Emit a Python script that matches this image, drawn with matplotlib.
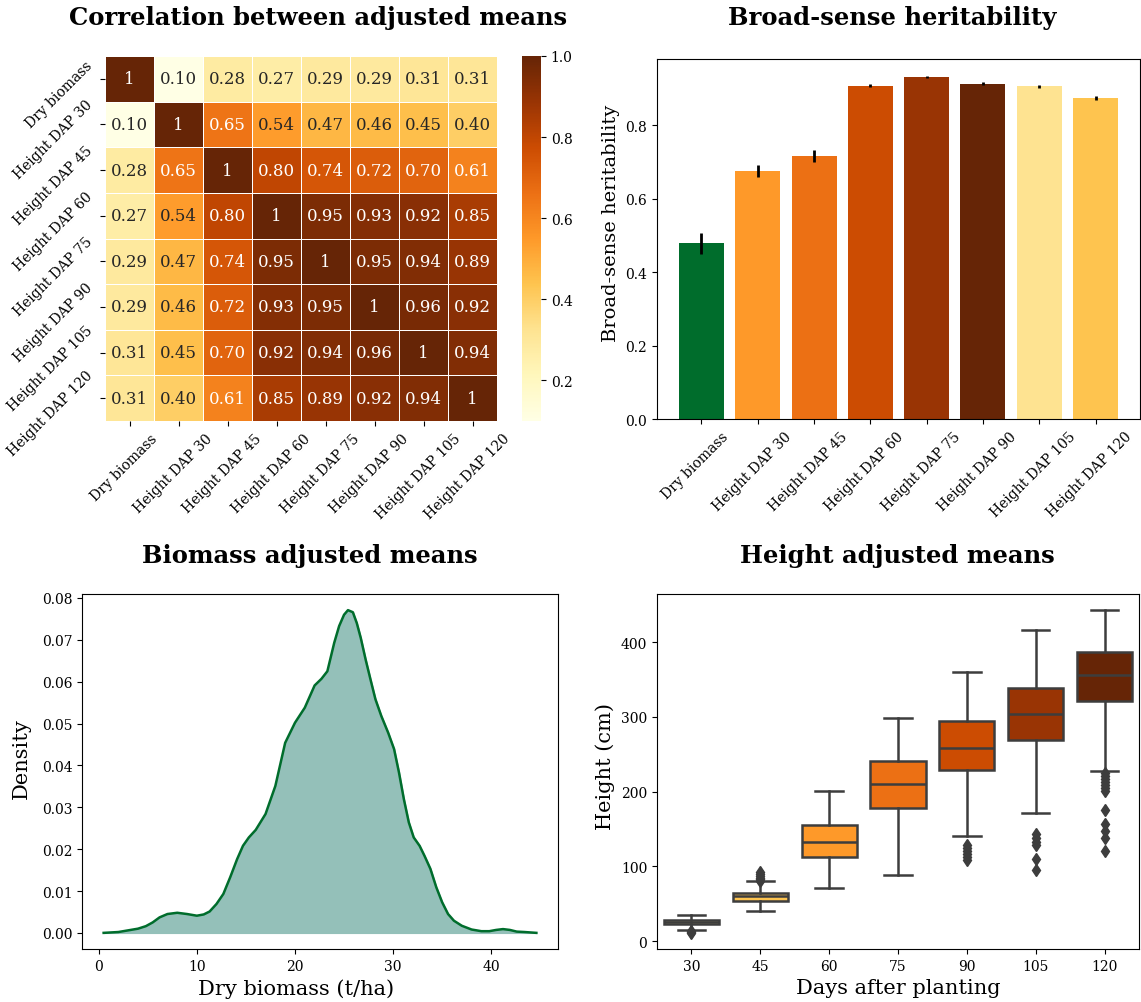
import numpy as np
import matplotlib
matplotlib.use("Agg")
import matplotlib.pyplot as plt
import matplotlib.transforms as mtransforms
from matplotlib.colors import to_rgb

plt.rcParams['font.family'] = ['DejaVu Serif']

# ---------------- data ----------------
trait_labels = ["Dry biomass", "Height DAP 30", "Height DAP 45", "Height DAP 60",
                "Height DAP 75", "Height DAP 90", "Height DAP 105", "Height DAP 120"]

corr_values = [
    [1.00, 0.10, 0.28, 0.27, 0.29, 0.29, 0.31, 0.31],
    [0.10, 1.00, 0.65, 0.54, 0.47, 0.46, 0.45, 0.40],
    [0.28, 0.65, 1.00, 0.80, 0.74, 0.72, 0.70, 0.61],
    [0.27, 0.54, 0.80, 1.00, 0.95, 0.93, 0.92, 0.85],
    [0.29, 0.47, 0.74, 0.95, 1.00, 0.95, 0.94, 0.89],
    [0.29, 0.46, 0.72, 0.93, 0.95, 1.00, 0.96, 0.92],
    [0.31, 0.45, 0.70, 0.92, 0.94, 0.96, 1.00, 0.94],
    [0.31, 0.40, 0.61, 0.85, 0.89, 0.92, 0.94, 1.00],
]

heritability = [0.478, 0.675, 0.716, 0.907, 0.931, 0.912, 0.906, 0.874]
heritability_err = [0.029, 0.017, 0.016, 0.004, 0.002, 0.004, 0.004, 0.006]
bar_colors = ['#006d2c', '#fe9929', '#ec7014', '#cc4c02', '#993404', '#662506', '#fee391', '#fec44f']

# density curve of dry biomass
biomass_x = [0.5, 2.0, 3.0, 4.0, 4.8, 5.5, 6.2, 7.0, 8.0, 9.0, 10.0, 10.7, 11.3, 12.0, 12.7,
             13.4, 14.1, 14.7, 15.3, 16.0, 17.0, 18.0, 19.0, 20.0, 21.0, 22.0, 22.7, 23.3,
             24.0, 24.5, 25.0, 25.4, 25.9, 26.3, 26.7, 27.2, 27.7, 28.2, 28.8, 29.5, 30.1,
             30.6, 31.1, 31.6, 32.1, 32.7, 33.2, 33.8, 34.4, 35.0, 35.6, 36.2, 37.0, 38.0,
             39.0, 39.8, 40.5, 41.2, 41.9, 42.6, 43.4, 44.6]
biomass_density = [0.0000, 0.0002, 0.0006, 0.0010, 0.0016, 0.0025, 0.0037, 0.0045, 0.0048,
                   0.0045, 0.0041, 0.0044, 0.0051, 0.0069, 0.0093, 0.0133, 0.0176, 0.0208,
                   0.0228, 0.0246, 0.0284, 0.0351, 0.0454, 0.0502, 0.0538, 0.0591, 0.0607,
                   0.0625, 0.0693, 0.0733, 0.0760, 0.0771, 0.0766, 0.0740, 0.0705, 0.0653,
                   0.0605, 0.0558, 0.0518, 0.0478, 0.0439, 0.0383, 0.0319, 0.0264, 0.0228,
                   0.0208, 0.0184, 0.0153, 0.0109, 0.0073, 0.0045, 0.0029, 0.0017, 0.0008,
                   0.0004, 0.0004, 0.0007, 0.0009, 0.0007, 0.0003, 0.0002, 0.0000]

# height box statistics per days after planting
dap_labels = ['30', '45', '60', '75', '90', '105', '120']
box_whislo = [15.5, 40, 71, 88, 141, 171, 228]
box_q1 = [23, 54, 112.5, 177.5, 228.5, 268.5, 321]
box_med = [26, 60, 133, 210, 259, 303.5, 356]
box_q3 = [28.5, 65, 155, 240.5, 294.5, 339, 386.5]
box_whishi = [35, 80, 200.5, 299, 360, 417, 443]
box_fliers = [
    [14, 12.5, 11],
    [81, 83, 85, 87, 90, 92],
    [],
    [],
    [108, 112, 116, 120, 124, 128],
    [95, 110, 128, 133, 138, 143],
    [121, 138, 148, 157, 175, 201, 205, 209, 213, 217, 221, 225],
]
box_colors = ['#fee391', '#fec44f', '#fe9929', '#ec7014', '#cc4c02', '#993404', '#662506']

# ---------------- figure ----------------
W, H = 1141, 1003
fig = plt.figure(figsize=(W / 100, H / 100), dpi=100)


def px_axes(l, t, r, b):
    return fig.add_axes([l / W, 1 - b / H, (r - l) / W, (b - t) / H])


def shift_labels(labels, dx_px, dy_px=0):
    off = mtransforms.ScaledTranslation(dx_px / 100, dy_px / 100, fig.dpi_scale_trans)
    for lab in labels:
        lab.set_transform(lab.get_transform() + off)


title_kw = dict(fontsize=17.5, fontweight='bold', ha='center', va='center')

# ---- heatmap ----
ax1 = px_axes(105, 57, 497, 422)
cax = px_axes(522, 57, 541, 422)
data = np.array(corr_values)
cmap = plt.get_cmap('YlOrBr')
vmin, vmax = data.min(), data.max()
mesh = ax1.pcolormesh(data, cmap=cmap, vmin=vmin, vmax=vmax, edgecolors='white', linewidth=0.7)
ax1.set_xlim(0, data.shape[1])
ax1.set_ylim(data.shape[0], 0)
for s in ax1.spines.values():
    s.set_visible(False)


def rel_lum(c):
    rgb = np.array(to_rgb(c))
    rgb = np.where(rgb <= .03928, rgb / 12.92, ((rgb + .055) / 1.055) ** 2.4)
    return rgb.dot([.2126, .7152, .0722])


for i in range(data.shape[0]):
    for j in range(data.shape[1]):
        v = data[i, j]
        col = cmap((v - vmin) / (vmax - vmin))
        tc = '#262626' if rel_lum(col) > .408 else 'white'
        txt = "1" if v == 1 else f"{v:.2f}"
        ax1.text(j + 0.5, i + 0.5, txt, ha='center', va='center', fontsize=12, color=tc)

ax1.set_xticks(np.arange(8) + 0.5)
ax1.set_yticks(np.arange(8) + 0.5)
xl1 = ax1.set_xticklabels(trait_labels, rotation=45, fontsize=10)
yl1 = ax1.set_yticklabels(trait_labels, rotation=45, fontsize=10, va='center')
shift_labels(xl1, -5)
shift_labels(yl1, 0, -15)
cb = fig.colorbar(mesh, cax=cax)
cb.outline.set_visible(False)
cb.set_ticks([0.2, 0.4, 0.6, 0.8, 1.0])
cb.ax.tick_params(labelsize=10)
fig.text(318 / W, 1 - 18 / H, "Correlation between adjusted means", **title_kw)

# ---- bars ----
ax2 = px_axes(657, 60, 1140, 420)
xpos = np.arange(len(trait_labels))
ax2.bar(xpos, heritability, width=0.8, color=bar_colors, yerr=heritability_err,
        error_kw=dict(ecolor='black', elinewidth=2, capsize=0))
ax2.set_xticks(xpos)
xl2 = ax2.set_xticklabels(trait_labels, rotation=45, fontsize=10)
shift_labels(xl2, -6)
ax2.tick_params(axis='y', labelsize=10)
ax2.set_ylabel("Broad-sense heritability", fontsize=14)
ax2.yaxis.label.set_y(0.547)
fig.text(892 / W, 1 - 18 / H, "Broad-sense heritability", **title_kw)

# ---- density ----
ax3 = px_axes(82, 595, 558, 950)
ax3.fill_between(biomass_x, biomass_density, color='#94c0b9')
ax3.plot(biomass_x, biomass_density, color='#006d2c', lw=1.8)
ax3.set_xticks([0, 10, 20, 30, 40])
ax3.set_yticks(np.arange(0, 0.081, 0.01))
ax3.yaxis.set_major_formatter(matplotlib.ticker.FormatStrFormatter('%.2f'))
ax3.tick_params(labelsize=10)
ax3.set_xlabel("Dry biomass (t/ha)", fontsize=15)
ax3.set_ylabel("Density", fontsize=15, labelpad=8)
ax3.xaxis.label.set_x(0.45)
ax3.yaxis.label.set_y(0.538)
fig.text(310 / W, 1 - 556 / H, "Biomass adjusted means", **title_kw)

# ---- boxes ----
ax4 = px_axes(657, 595, 1139, 950)
stats = []
for k in range(len(dap_labels)):
    stats.append(dict(med=box_med[k], q1=box_q1[k], q3=box_q3[k],
                      whislo=box_whislo[k], whishi=box_whishi[k], fliers=box_fliers[k]))
edge = '#3d3d3d'
bp = ax4.bxp(stats, positions=np.arange(len(dap_labels)), widths=0.8, patch_artist=True,
             boxprops=dict(edgecolor=edge, linewidth=1.8),
             medianprops=dict(color=edge, linewidth=1.8),
             whiskerprops=dict(color=edge, linewidth=1.8),
             capprops=dict(color=edge, linewidth=1.8),
             capwidths=0.4,
             flierprops=dict(marker='d', markerfacecolor=edge, markeredgecolor=edge, markersize=6))
for patch, c in zip(bp['boxes'], box_colors):
    patch.set_facecolor(c)
ax4.set_xticks(np.arange(len(dap_labels)))
ax4.set_xticklabels(dap_labels)
ax4.set_xlim(-0.5, 6.5)
ax4.set_yticks([0, 100, 200, 300, 400])
ax4.tick_params(labelsize=10)
ax4.set_xlabel("Days after planting", fontsize=15)
ax4.set_ylabel("Height (cm)", fontsize=15)
ax4.yaxis.label.set_y(0.518)
fig.text(897 / W, 1 - 556 / H, "Height adjusted means", **title_kw)

fig.savefig("out.png", dpi=100)
